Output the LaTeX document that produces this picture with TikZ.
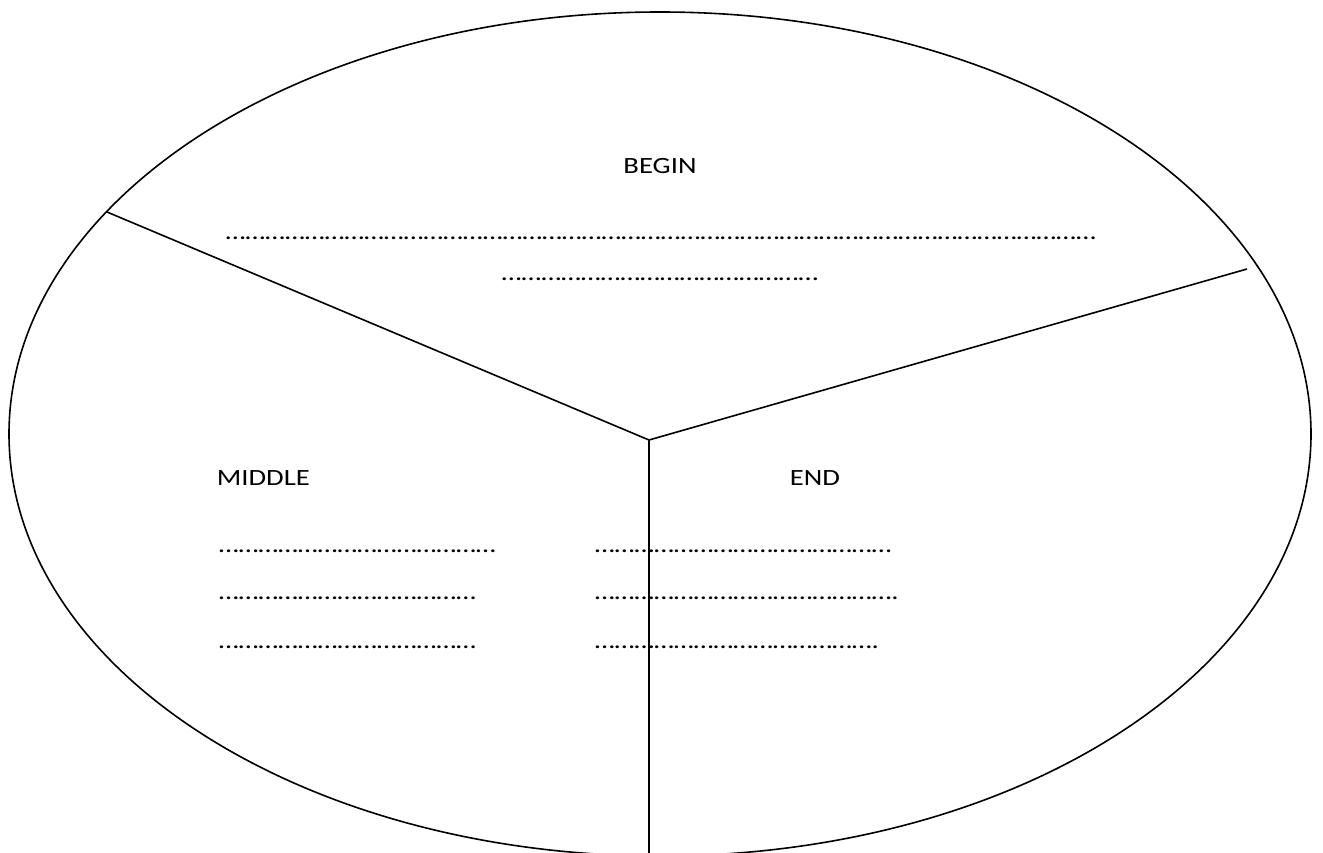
\documentclass[tikz,border=0pt]{standalone}
\usepackage{fontspec}
\setmainfont{Carlito}[FakeStretch=1.23]
\usepackage{tikz}

% a run of n ellipsis characters
\newcommand\dotrun[1]{\foreach \k in {1,...,#1}{…}}

\begin{document}
\begin{tikzpicture}[x=1pt, y=-1pt, line width=1.6pt,
    lbl/.style={inner sep=0pt, font=\fontsize{23.3}{28}\selectfont}]
  \useasboundingbox (0,0) rectangle (1323,853);
  \coordinate (hub) at (649, 440);
  \coordinate (lftend) at (107, 212);
  \coordinate (rgtend) at (1247, 269);
  \coordinate (btmend) at (649, 860);
  % outer ellipse and the three dividing lines
  \draw (660, 434) ellipse [x radius=651, y radius=422];
  \draw (hub) -- (lftend);
  \draw (hub) -- (rgtend);
  \draw (hub) -- (btmend);
  % top section
  \node[lbl, anchor=base] (begin) at (660, 174) {BEGIN};
  \node[lbl, anchor=base] (b1) at (661, 240) {\dotrun{44}};
  \node[lbl, anchor=base] (b2) at (660, 280) {\dotrun{16}};
  % left section
  \node[lbl, anchor=base west] (middle) at (216, 485) {MIDDLE};
  \node[lbl, anchor=base west] (m1) at (218, 552) {\dotrun{14}};
  \node[lbl, anchor=base west] (m2) at (218, 599) {\dotrun{13}};
  \node[lbl, anchor=base west] (m3) at (218, 648) {\dotrun{13}};
  % right section
  \node[lbl, anchor=base] (end) at (815, 485) {END};
  \node[lbl, anchor=base west] (e1) at (594, 552) {\dotrun{15}};
  \node[lbl, anchor=base west] (e2) at (594, 599) {\dotrun{15}.};
  \node[lbl, anchor=base west] (e3) at (594, 648) {\dotrun{14}.};
\end{tikzpicture}
\end{document}
